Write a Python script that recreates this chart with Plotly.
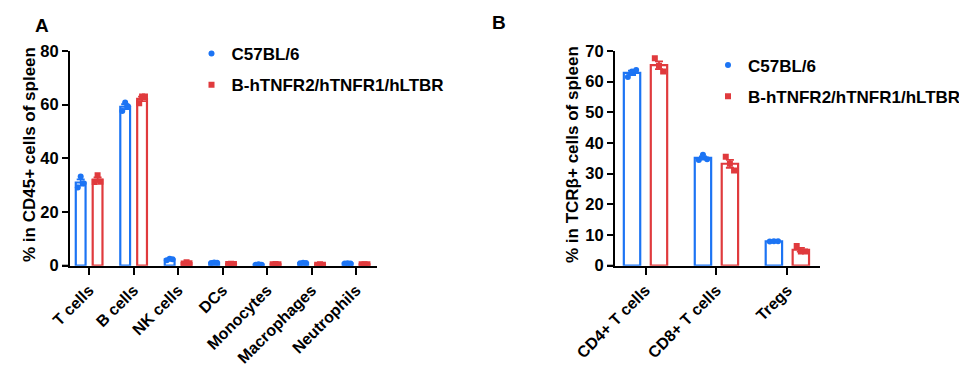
import plotly.graph_objects as go
import numpy as np

# ---------------- data ----------------
cats_a = ["T cells", "B cells", "NK cells", "DCs", "Monocytes", "Macrophages", "Neutrophils"]
wt_a = [[29.1, 33.2, 30.7], [57.6, 60.8, 59.3], [2.0, 2.6, 2.4], [1.0, 1.2, 1.1],
        [0.4, 0.5, 0.4], [0.9, 1.1, 1.0], [0.8, 0.9, 0.8]]
hu_a = [[31.2, 33.7, 31.3], [60.5, 63.0, 63.0], [0.8, 1.3, 0.9], [0.6, 0.7, 0.6],
        [0.5, 0.6, 0.5], [0.4, 0.5, 0.4], [0.5, 0.5, 0.5]]

cats_b = ["CD4+ T cells", "CD8+ T cells", "Tregs"]
wt_b = [[61.5, 63.3, 63.8], [34.5, 36.2, 34.7], [7.9, 8.0, 8.0]]
hu_b = [[67.6, 65.2, 63.3], [35.5, 33.2, 31.0], [6.4, 4.6, 4.6]]

series_names = ["C57BL/6", "B-hTNFR2/hTNFR1/hLTBR"]
yticks_a = [0, 20, 40, 60, 80]
yticks_b = [0, 10, 20, 30, 40, 50, 60, 70]

BLUE = "#1C74F4"
RED = "#E03A3D"
FONT = "Liberation Sans"

H = 378.0
W = 967.0
D = 8  # page body margin offset

fig = go.Figure()

OFF = 0.19
BW = 0.22
JIT = [-0.065, 0.0, 0.065]


def add_panel(cats, groups, xa, ya, legend, bw, jit):
    for gi, (vals, color, sym, name) in enumerate(zip(groups, [BLUE, RED], ["circle", "square"], series_names)):
        off = -OFF if gi == 0 else OFF
        arr = np.array(vals)
        means = arr.mean(axis=1)
        sem = arr.std(axis=1, ddof=1) / np.sqrt(arr.shape[1])
        xs = np.arange(len(cats)) + off
        fig.add_trace(go.Bar(
            x=xs, y=means, width=bw, xaxis=xa, yaxis=ya,
            marker=dict(color="white", line=dict(color=color, width=2.2)),
            error_y=dict(type="data", array=sem, color=color, thickness=1.8, width=4),
            showlegend=False, hoverinfo="skip"))
        px_, py_ = [], []
        for ci in range(len(cats)):
            for k, v in enumerate(vals[ci]):
                px_.append(ci + off + jit[k])
                py_.append(v)
        fig.add_trace(go.Scatter(
            x=px_, y=py_, mode="markers", xaxis=xa, yaxis=ya, name=f"<b>{name}</b>",
            marker=dict(color=color, size=6, symbol=sym),
            legend=legend, legendgroup=legend + str(gi), showlegend=True))


add_panel(cats_a, [wt_a, hu_a], "x", "y", "legend", BW, JIT)
add_panel(cats_b, [wt_b, hu_b], "x2", "y2", "legend2", BW * 1.05, [j * 0.9 for j in JIT])


def px_x(p):
    return (p - D) / W


def px_y(p):
    return 1 - (p - D) / H


ydom = [px_y(265.7), px_y(51)]
axis_common = dict(showgrid=False, zeroline=False, showline=True, linecolor="black", linewidth=2,
                   ticks="outside", tickcolor="black", tickwidth=2, ticklen=7, automargin=False,
                   tickfont=dict(family=FONT, size=16, color="black"))
yfont = dict(family=FONT, size=16.5, color="black")
legfont = dict(family=FONT, size=17, color="black")

fig.update_layout(
    width=967, height=378,
    margin=dict(l=0, r=0, t=0, b=0, autoexpand=False),
    plot_bgcolor="white", paper_bgcolor="white",
    font=dict(family=FONT, color="black"),
    barmode="overlay",
    xaxis=dict(domain=[px_x(70), px_x(377)], range=[-0.43, 6.47],
               tickvals=list(range(len(cats_a))), ticktext=[f"<b>{c}</b>" for c in cats_a],
               tickangle=-45, anchor="y", **axis_common),
    yaxis=dict(domain=ydom, range=[0, 80], tickvals=yticks_a, ticktext=[f"<b>{t}</b>" for t in yticks_a],
               anchor="x", **{**axis_common, "tickfont": yfont, "ticklen": 6}),
    xaxis2=dict(domain=[px_x(615), px_x(820)], range=[-0.43, 2.46],
                tickvals=list(range(len(cats_b))), ticktext=[f"<b>{c}</b>" for c in cats_b],
                tickangle=-45, anchor="y2", **axis_common),
    yaxis2=dict(domain=ydom, range=[0, 70], tickvals=yticks_b, ticktext=[f"<b>{t}</b>" for t in yticks_b],
                anchor="x2", **{**axis_common, "tickfont": yfont, "ticklen": 6}),
    legend=dict(x=px_x(191.5), y=px_y(36), xanchor="left", yanchor="top",
                font=legfont, bgcolor="rgba(0,0,0,0)",
                tracegroupgap=6, traceorder="grouped"),
    legend2=dict(x=px_x(708), y=px_y(47.5), xanchor="left", yanchor="top",
                 font=legfont, bgcolor="rgba(0,0,0,0)",
                 tracegroupgap=6, traceorder="grouped"),
    shapes=[
        dict(type="line", xref="x domain", yref="y domain", x0=-8 / 307, x1=0, y0=0, y1=0,
             line=dict(color="black", width=2)),
        dict(type="line", xref="x2 domain", yref="y2 domain", x0=-8 / 205, x1=0, y0=0, y1=0,
             line=dict(color="black", width=2)),
    ],
    annotations=[
        dict(text="<b>A</b>", x=px_x(42), y=px_y(25), xref="paper", yref="paper", showarrow=False,
             xanchor="center", yanchor="middle", font=dict(family=FONT, size=19, color="black")),
        dict(text="<b>B</b>", x=px_x(499), y=px_y(23), xref="paper", yref="paper", showarrow=False,
             xanchor="center", yanchor="middle", font=dict(family=FONT, size=19, color="black")),
        dict(text="<b>% in CD45+ cells of spleen</b>", x=px_x(30), y=px_y(155), xref="paper", yref="paper",
             xanchor="center", yanchor="middle",
             showarrow=False, textangle=-90, font=dict(family=FONT, size=17, color="black")),
        dict(text="<b>% in TCRβ+ cells of spleen</b>", x=px_x(573), y=px_y(155), xref="paper", yref="paper",
             xanchor="center", yanchor="middle",
             showarrow=False, textangle=-90, font=dict(family=FONT, size=17, color="black")),
    ],
)

fig.write_html("out.html")
